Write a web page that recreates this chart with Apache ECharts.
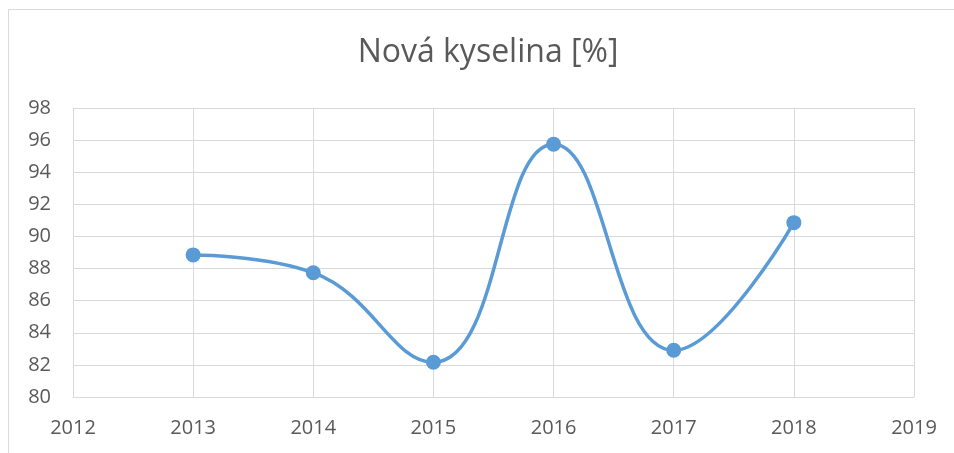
<!DOCTYPE html>
<html>
<head>
<meta charset="utf-8">
<script src="https://cdn.jsdelivr.net/npm/echarts@6/dist/echarts.min.js"></script>
<style>html,body{margin:0;padding:0;background:#fff}#c{width:954px;height:453px}</style>
</head>
<body>
<div id="c"></div>
<script>
const titleText = 'Nová kyselina [%]';
const years = [2013, 2014, 2015, 2016, 2017, 2018];
const values = [88.85, 87.74, 82.16, 95.75, 82.91, 90.86];
const xTicks = [2012, 2013, 2014, 2015, 2016, 2017, 2018, 2019];
const yTicks = [80, 82, 84, 86, 88, 90, 92, 94, 96, 98];

const chart = echarts.init(document.getElementById('c'), null, {renderer: 'canvas'});
const font = '"Open Sans", "Noto Sans", sans-serif';
chart.setOption({
  animation: false,
  backgroundColor: '#fff',
  title: {
    text: titleText,
    left: 483,
    textAlign: 'center',
    top: 32,
    textStyle: {fontFamily: font, fontSize: 32, fontWeight: 'normal', color: '#595959'}
  },
  graphic: [{
    type: 'rect', silent: true,
    shape: {x: 8.5, y: 9.5, width: 1200, height: 1200},
    style: {fill: 'none', stroke: '#D9D9D9', lineWidth: 1}
  }],
  grid: {left: 73, right: 40, top: 108, bottom: 56, containLabel: false},
  xAxis: {
    type: 'value',
    min: xTicks[0], max: xTicks[xTicks.length - 1], interval: 1,
    axisLine: {show: true, lineStyle: {color: '#D9D9D9', width: 1}},
    axisTick: {show: false},
    splitLine: {show: true, lineStyle: {color: '#D9D9D9', width: 1}},
    axisLabel: {color: '#595959', fontFamily: font, fontSize: 20, margin: 21,
      formatter: v => String(v)}
  },
  yAxis: {
    type: 'value',
    min: yTicks[0], max: yTicks[yTicks.length - 1], interval: 2,
    axisLine: {show: false},
    axisTick: {show: false},
    splitLine: {show: true, lineStyle: {color: '#D9D9D9', width: 1}},
    axisLabel: {color: '#595959', fontFamily: font, fontSize: 20, margin: 22}
  },
  series: [{
    type: 'line',
    data: years.map((y, i) => [y, values[i]]),
    smooth: 0.45,
    symbol: 'circle',
    symbolSize: 15,
    itemStyle: {color: '#5B9BD5'},
    lineStyle: {color: '#5B9BD5', width: 3.5}
  }]
});
</script>
</body>
</html>
